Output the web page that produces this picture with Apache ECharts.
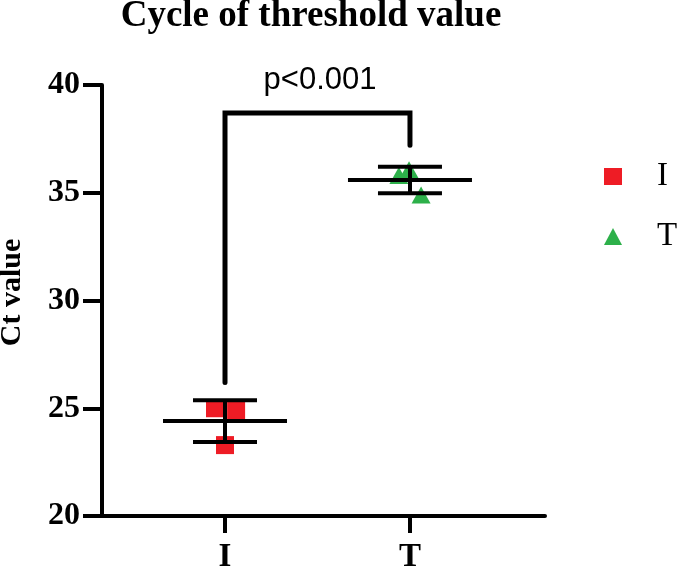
<!DOCTYPE html>
<html><head><meta charset="utf-8">
<script src="https://cdn.jsdelivr.net/npm/echarts@6/dist/echarts.min.js"></script>
<style>html,body{margin:0;padding:0;background:#fff}#c{width:678px;height:568px}</style>
</head><body><div id="c"></div>
<script>
const categories = ['I', 'T'];
const groupPos = [1, 2];
const iValues = [25.0, 24.92, 23.29];
const iJitter = [0.946, 1.06, 1.0];
const tValues = [35.8, 36.07, 34.9];
const tJitter = [1.94, 1.995, 2.06];
const yTicks = [20, 25, 30, 35, 40];
const bracketY = [26.2, 38.7, 38.7, 37.2];
const bracketX = [1, 1, 2, 2];
const pLabel = 'p<0.001';

function mean(a){return a.reduce((s,v)=>s+v,0)/a.length;}
function sd(a){const m=mean(a);return Math.sqrt(a.reduce((s,v)=>s+(v-m)*(v-m),0)/(a.length-1));}
const stats = [
  [groupPos[0], mean(iValues), sd(iValues)],
  [groupPos[1], mean(tValues), sd(tValues)]
];
const RED = '#EE1C25', GREEN = '#2DB04A';

const chart = echarts.init(document.getElementById('c'));
chart.setOption({
  animation: false,
  backgroundColor: '#fff',
  title: [
    {text: 'Cycle of threshold value', left: 306, top: -7, textAlign: 'center',
     textStyle: {fontFamily: 'Liberation Serif', fontWeight: 'bold', fontSize: 37, color: '#000'}},
    {text: pLabel, left: 315, top: 60, textAlign: 'center',
     textStyle: {fontFamily: 'Liberation Sans', fontWeight: 'normal', fontSize: 31, color: '#000'}}
  ],
  grid: {left: 102, right: 133, top: 85, bottom: 52, containLabel: false, outerBoundsMode: 'none'},
  legend: {
    orient: 'vertical', left: 599, top: 155, itemWidth: 18, itemHeight: 17, itemGap: 27,
    textStyle: {fontFamily: 'Liberation Serif', fontSize: 33, color: '#000', padding: [0,0,0,30]},
    data: [{name: 'I', icon: 'rect'}, {name: 'T', icon: 'triangle'}]
  },
  xAxis: {
    type: 'value', min: 0.335, max: 2.73,
    axisLine: {show: true, onZero: false, lineStyle: {color: '#000', width: 4}},
    axisTick: {show: true, customValues: groupPos, length: 17, lineStyle: {color: '#000', width: 4}},
    axisLabel: {show: true, customValues: groupPos, margin: 25,
      formatter: v => categories[groupPos.indexOf(v)] || '',
      fontFamily: 'Liberation Serif', fontWeight: 'bold', fontSize: 33, color: '#000'},
    splitLine: {show: false}
  },
  yAxis: {
    type: 'value', min: 20, max: 40, interval: 5,
    name: 'Ct value', nameLocation: 'middle', nameGap: 75,
    nameTextStyle: {fontFamily: 'Liberation Serif', fontWeight: 'bold', fontSize: 30, color: '#000', padding: [0,0,0,16]},
    axisLine: {show: true, lineStyle: {color: '#000', width: 4}},
    axisTick: {show: true, length: 19, lineStyle: {color: '#000', width: 4}},
    axisLabel: {margin: 22, fontFamily: 'Liberation Serif', fontWeight: 'bold', fontSize: 32, color: '#000',
      formatter: v => yTicks.includes(v) ? String(v) : ''},
    splitLine: {show: false}
  },
  series: [
    {
      type: 'custom', name: 'bars', silent: true, z: 3,
      data: stats,
      renderItem: function(params, api){
        const x = api.value(0), m = api.value(1), s = api.value(2);
        const c = api.coord([x, m]);
        const up = api.coord([x, m + s]);
        const lo = api.coord([x, m - s]);
        const st = {stroke: '#000', lineWidth: 4};
        return {type: 'group', children: [
          {type: 'line', shape: {x1: c[0]-62, y1: c[1], x2: c[0]+62, y2: c[1]}, style: st},
          {type: 'line', shape: {x1: c[0]-32, y1: up[1], x2: c[0]+32, y2: up[1]}, style: st},
          {type: 'line', shape: {x1: c[0]-32, y1: lo[1], x2: c[0]+32, y2: lo[1]}, style: st},
          {type: 'line', shape: {x1: c[0], y1: up[1], x2: c[0], y2: lo[1]}, style: st}
        ]};
      }
    },
    {
      type: 'line', name: 'bracket', silent: true, z: 1, symbol: 'none',
      lineStyle: {color: '#000', width: 5, cap: 'round', join: 'miter'},
      data: bracketX.map((x, i) => [x, bracketY[i]])
    },
    {
      type: 'scatter', name: 'I', symbol: 'rect', symbolSize: 18, z: 2,
      itemStyle: {color: RED, opacity: 1},
      data: iValues.map((v, i) => [iJitter[i], v])
    },
    {
      type: 'scatter', name: 'T', symbol: 'triangle', symbolSize: [19, 17], z: 2,
      itemStyle: {color: GREEN, opacity: 1},
      data: tValues.map((v, i) => [tJitter[i], v])
    }
  ]
});
</script></body></html>
